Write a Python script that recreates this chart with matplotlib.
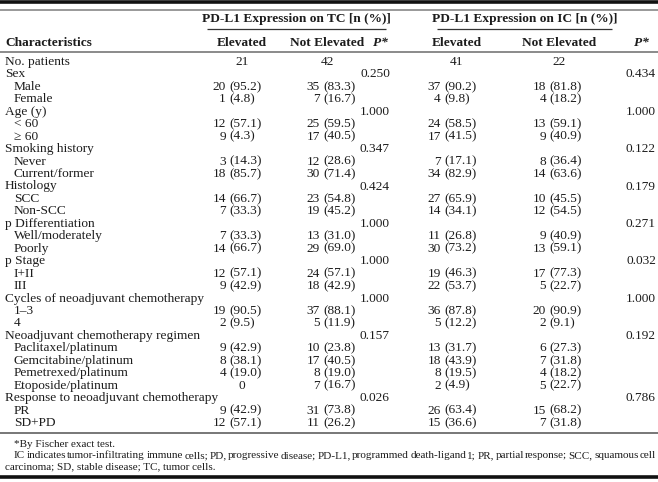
import matplotlib
matplotlib.use("Agg")
from matplotlib import pyplot as plt

# table content
labels = ["No. patients", "Sex", "Male", "Female", "Age (y)", "< 60", "\u2265 60",
          "Smoking history", "Never", "Current/former", "Histology", "SCC", "Non-SCC",
          "p Differentiation", "Well/moderately", "Poorly", "p Stage", "I+II", "III",
          "Cycles of neoadjuvant chemotherapy", "1\u20133", "4",
          "Neoadjuvant chemotherapy regimen", "Paclitaxel/platinum", "Gemcitabine/platinum",
          "Pemetrexed/platinum", "Etoposide/platinum",
          "Response to neoadjuvant chemotherapy", "PR", "SD+PD"]
indented = [False, False, True, True, False, True, True,
            False, True, True, False, True, True,
            False, True, True, False, True, True,
            False, True, True,
            False, True, True, True, True,
            False, True, True]

tc_elev = ["21", "", "20 (95.2)", "1 (4.8)", "", "12 (57.1)", "9 (4.3)", "", "3 (14.3)", "18 (85.7)",
           "", "14 (66.7)", "7 (33.3)", "", "7 (33.3)", "14 (66.7)", "", "12 (57.1)", "9 (42.9)",
           "", "19 (90.5)", "2 (9.5)", "", "9 (42.9)", "8 (38.1)", "4 (19.0)", "0", "", "9 (42.9)", "12 (57.1)"]
tc_not = ["42", "", "35 (83.3)", "7 (16.7)", "", "25 (59.5)", "17 (40.5)", "", "12 (28.6)", "30 (71.4)",
          "", "23 (54.8)", "19 (45.2)", "", "13 (31.0)", "29 (69.0)", "", "24 (57.1)", "18 (42.9)",
          "", "37 (88.1)", "5 (11.9)", "", "10 (23.8)", "17 (40.5)", "8 (19.0)", "7 (16.7)", "", "31 (73.8)", "11 (26.2)"]
tc_p = ["", "0.250", "", "", "1.000", "", "", "0.347", "", "", "0.424", "", "", "1.000", "", "",
        "1.000", "", "", "1.000", "", "", "0.157", "", "", "", "", "0.026", "", ""]
ic_elev = ["41", "", "37 (90.2)", "4 (9.8)", "", "24 (58.5)", "17 (41.5)", "", "7 (17.1)", "34 (82.9)",
           "", "27 (65.9)", "14 (34.1)", "", "11 (26.8)", "30 (73.2)", "", "19 (46.3)", "22 (53.7)",
           "", "36 (87.8)", "5 (12.2)", "", "13 (31.7)", "18 (43.9)", "8 (19.5)", "2 (4.9)", "", "26 (63.4)", "15 (36.6)"]
ic_not = ["22", "", "18 (81.8)", "4 (18.2)", "", "13 (59.1)", "9 (40.9)", "", "8 (36.4)", "14 (63.6)",
          "", "10 (45.5)", "12 (54.5)", "", "9 (40.9)", "13 (59.1)", "", "17 (77.3)", "5 (22.7)",
          "", "20 (90.9)", "2 (9.1)", "", "6 (27.3)", "7 (31.8)", "4 (18.2)", "5 (22.7)", "", "15 (68.2)", "7 (31.8)"]
ic_p = ["", "0.434", "", "", "1.000", "", "", "0.122", "", "", "0.179", "", "", "0.271", "", "",
        "0.032", "", "", "1.000", "", "", "0.192", "", "", "", "", "0.786", "", ""]

group_titles = ["PD-L1 Expression on TC [n (%)]", "PD-L1 Expression on IC [n (%)]"]
col_titles = ["Elevated", "Not Elevated", "Elevated", "Not Elevated"]
footnote1 = "*By Fischer exact test."
footnote2 = ("IC indicates tumor-infiltrating immune cells; PD, progressive disease; PD-L1, programmed "
             "death-ligand 1; PR, partial response; SCC, squamous cell")
footnote3 = "carcinoma; SD, stable disease; TC, tumor cells."

W, H = 658, 482
FONT = "Liberation Serif"
FS = 9.6
FS_NOTE = 8.0
INK = "#1c1c1c"

fig = plt.figure(figsize=(W / 100, H / 100), dpi=100)
ax = fig.add_axes([0, 0, 1, 1])
ax.set_xlim(0, W)
ax.set_ylim(H, 0)
ax.axis("off")


def txt(x, y, s, ha="left", size=FS, **kw):
    ax.text(x, y, s, ha=ha, va="center", fontsize=size, family=FONT, color=INK, **kw)


def rule(y, x0=0, x1=W, lw=1.0, color="#555555"):
    ax.plot([x0, x1], [y, y], color=color, lw=lw, solid_capstyle="butt")


# rules
rule(2, lw=2.6, color="#111111")
rule(10, lw=1.2, color="#888888")
rule(29, 207, 386, lw=0.9, color="#333333")
rule(29, 437, 612, lw=0.9, color="#333333")
rule(52, lw=1.2, color="#777777")

# headers
txt(296, 19, group_titles[0], ha="center", weight="bold")
txt(525, 19, group_titles[1], ha="center", weight="bold")
txt(5, 43, "Characteristics", weight="bold")
col_centers = [242, 327, 457, 559]
for cx, t in zip(col_centers, col_titles):
    txt(cx, 43, t, ha="center", weight="bold")
txt(380, 43, "P*", ha="center", weight="bold", style="italic")
txt(641, 43, "P*", ha="center", weight="bold", style="italic")

# body
y0, dy = 62, 12.45
split_x = [226, 320, 441, 546]
cols = [tc_elev, tc_not, ic_elev, ic_not]
for i, lab in enumerate(labels):
    y = y0 + i * dy
    txt(14 if indented[i] else 5, y, lab)
    for col, sx, cx in zip(cols, split_x, col_centers):
        v = col[i]
        if not v:
            continue
        if " (" in v:
            n, pct = v.split(" ", 1)
            txt(sx, y, n, ha="right")
            txt(sx + 3.2, y, pct)
        else:
            txt(cx, y, v, ha="center")
    if tc_p[i]:
        txt(390, y, tc_p[i], ha="right")
    if ic_p[i]:
        txt(656, y, ic_p[i], ha="right")

y_end = y0 + (len(labels) - 1) * dy
rule(y_end + 10, lw=1.4, color="#777777")

# footnotes
fy = y_end + 21
txt(14, fy, footnote1, size=FS_NOTE)

# justified line
fig.canvas.draw()
r = fig.canvas.get_renderer()
words = footnote2.split(" ")
items = []
for w in words:
    t = ax.text(0, 0, w, fontsize=FS_NOTE, family=FONT)
    bb = t.get_window_extent(renderer=r)
    items.append(bb.width)
    t.remove()
left, right = 14, 656
gap = (right - left - sum(items)) / (len(words) - 1)
x = left
for w, wd in zip(words, items):
    txt(x, fy + 11.5, w, size=FS_NOTE)
    x += wd + gap
txt(5, fy + 23, footnote3, size=FS_NOTE)

rule(H - 5, lw=2.6, color="#111111")

fig.savefig("out.png", dpi=100)
